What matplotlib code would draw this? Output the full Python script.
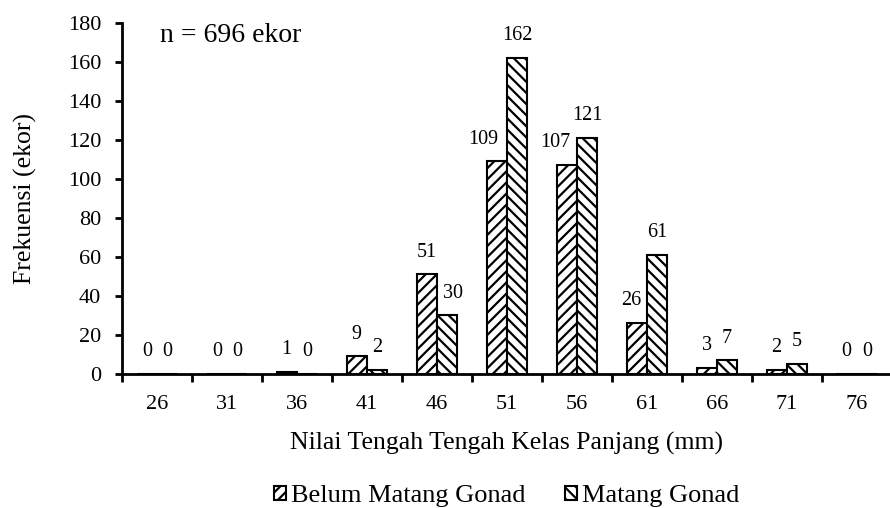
import numpy as np
import matplotlib.pyplot as plt

plt.rcParams['font.family'] = ['Liberation Serif', 'DejaVu Serif']
plt.rcParams['hatch.linewidth'] = 1.6

##########
# Datos  #
##########
kelas = ['26', '31', '36', '41', '46', '51', '56', '61', '66', '71', '76']
belum = [0, 0, 1, 9, 51, 109, 107, 26, 3, 2, 0]
matang = [0, 0, 0, 2, 30, 162, 121, 61, 7, 5, 0]

###################
# Figura y ejes   #
###################
fig = plt.figure(figsize=(8.9, 5.08), dpi=100)
ax = fig.add_axes([0.137, 0.264, 0.865, 0.691])

x = np.arange(len(kelas))
w = 0.29

b1 = ax.bar(x - w/2, belum, w, color='white', edgecolor='black', linewidth=1.5,
            hatch='///', label='Belum Matang Gonad')
b2 = ax.bar(x + w/2, matang, w, color='white', edgecolor='black', linewidth=1.5,
            hatch='\\\\\\', label='Matang Gonad')

# etiquetas de datos (algunas corridas como en el original)
corr_belum = {5: -10, 6: -8, 7: -4}
corr_matang = {4: 4}
for i, v in enumerate(belum):
    ax.annotate(str(v), (x[i] - w/2, v), xytext=(corr_belum.get(i, 0), 16),
                textcoords='offset points', ha='center', va='center', fontsize=14.5)
for i, v in enumerate(matang):
    ax.annotate(str(v), (x[i] + w/2, v), xytext=(corr_matang.get(i, 0), 16),
                textcoords='offset points', ha='center', va='center', fontsize=14.5)

#################
# Delimitadores #
#################
ax.set_xlim(-0.5, len(kelas) - 0.5)
ax.set_ylim(0, 180)
ax.set_yticks(np.arange(0, 181, 20))
ax.set_xticks(np.arange(-0.5, len(kelas), 1))
ax.set_xticklabels([])
ax.set_xticks(x, minor=True)
ax.set_xticklabels(kelas, minor=True)
ax.tick_params(axis='x', which='minor', length=0, pad=15, labelsize=16)
ax.tick_params(axis='x', which='major', length=6, width=2, direction='out')
ax.tick_params(axis='y', length=5, width=2, direction='out', labelsize=16, pad=10)

for s in ['top', 'right']:
    ax.spines[s].set_visible(False)
for s in ['left', 'bottom']:
    ax.spines[s].set_linewidth(2)

ax.set_ylabel('Frekuensi (ekor)', fontsize=18.5, labelpad=22)
ax.set_xlabel('Nilai Tengah Tengah Kelas Panjang (mm)', fontsize=18.5, labelpad=13)

ax.text(0.05, 0.965, 'n = 696 ekor', transform=ax.transAxes, fontsize=20,
        ha='left', va='center')

ax.legend(loc='center', bbox_to_anchor=(0.5, -0.348), ncol=2, frameon=False,
          fontsize=19, handlelength=0.45, handleheight=0.45, handletextpad=0.2,
          columnspacing=1.5, borderaxespad=0, borderpad=0)

fig.savefig('out.png', dpi=100)
